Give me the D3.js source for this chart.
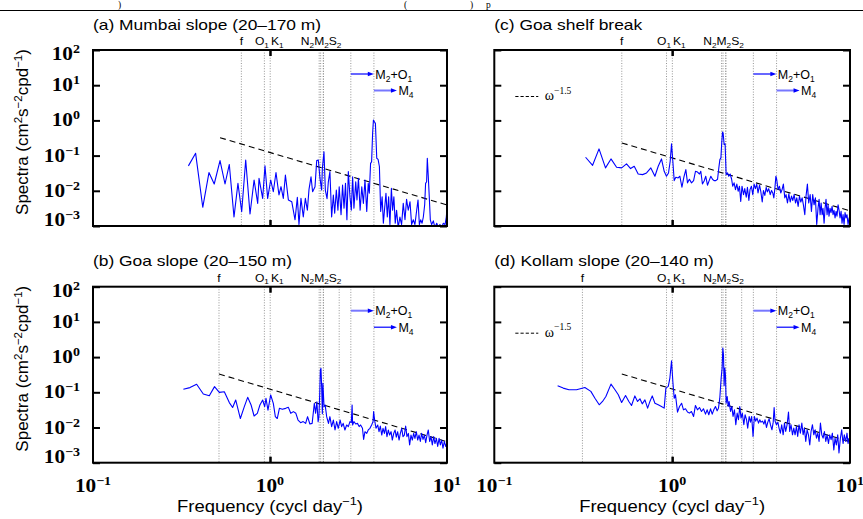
<!DOCTYPE html>
<html><head><meta charset="utf-8">
<script src="https://cdn.jsdelivr.net/npm/d3@7"></script>
<style>body{margin:0;background:#fff}svg{display:block}</style>
</head><body><svg id="chart" width="863" height="519"></svg>
<script>
// ---------------- DATA ----------------
const freqA = [0.346,0.380,0.417,0.452,0.484,0.522,0.557,0.589,0.626,0.659,0.692,0.729,0.771,0.813,0.852,0.867,0.909,0.937,0.970,1.009,1.044,1.081,1.124,1.154,1.189,1.222,1.27,1.327,1.385,1.427,1.458,1.496,1.542,1.584,1.626,1.661,1.705,1.741,1.796,1.836,1.875,1.916,1.958,1.976,2.018,2.054,2.10,2.136,2.18,2.23,2.28,2.32,2.37,2.42,2.46,2.52,2.57,2.62,2.67,2.72,2.77,2.83,2.88,2.93,2.98,3.05,3.10,3.16,3.23,3.30,3.37,3.44,3.52,3.59,3.64,3.70,3.75,3.80,3.84,3.88,3.94,4.01,4.08,4.15,4.22,4.30,4.37,4.45,4.52,4.60,4.68,4.76,4.85,4.93,5.01,5.10,5.19,5.30,5.42,5.54,5.66,5.79,5.91,6.04,6.18,6.31,6.45,6.59,6.74,6.86,6.98,7.10,7.23,7.35,7.48,7.57,7.67,7.74,7.84,7.94,8.05,8.19,8.37,8.55,8.75,8.94,9.12,9.33,9.53,9.75,9.91,9.98];
const specA = [0.051,0.116,0.0034,0.033,0.0156,0.072,0.0156,0.056,0.0018,0.0163,0.00255,0.075,0.0022,0.0203,0.0044,0.0226,0.0061,0.051,0.0061,0.0203,0.0094,0.033,0.0076,0.0131,0.0061,0.028,0.0055,0.0049,0.0015,0.0065,0.0011,0.0061,0.0018,0.0061,0.0028,0.011,0.025,0.0094,0.013,0.072,0.075,0.0226,0.0105,0.043,0.129,0.0105,0.006,0.018,0.035,0.0018,0.0076,0.0023,0.0105,0.0028,0.013,0.0021,0.0146,0.0032,0.0163,0.0015,0.035,0.0068,0.0028,0.025,0.0032,0.018,0.0055,0.0226,0.0028,0.013,0.0044,0.0203,0.0026,0.0163,0.0085,0.060,0.067,0.43,1.03,0.92,0.83,0.084,0.078,0.049,0.0026,0.0068,0.0012,0.0035,0.0085,0.0018,0.0068,0.0011,0.0117,0.0028,0.0068,0.0012,0.0028,0.0009,0.0018,0.0011,0.0044,0.0015,0.0057,0.0028,0.0049,0.0011,0.0015,0.0011,0.0028,0.0055,0.0011,0.0015,0.0012,0.0018,0.004,0.0163,0.018,0.084,0.025,0.0068,0.0015,0.0011,0.0014,0.0009,0.0012,0.0009,0.0011,0.0009,0.0012,0.0011,0.0018,0.0028];

const freqB = [0.324,0.353,0.385,0.420,0.454,0.486,0.517,0.552,0.589,0.615,0.640,0.680,0.716,0.748,0.782,0.813,0.848,0.877,0.909,0.933,0.949,0.974,1.009,1.044,1.072,1.099,1.13,1.174,1.226,1.27,1.31,1.356,1.40,1.44,1.49,1.54,1.59,1.63,1.68,1.73,1.78,1.81,1.84,1.87,1.89,1.91,1.925,1.94,1.958,1.976,1.99,2.02,2.05,2.09,2.14,2.18,2.23,2.28,2.33,2.38,2.43,2.49,2.54,2.59,2.65,2.71,2.77,2.83,2.88,2.91,2.93,2.98,3.05,3.12,3.19,3.25,3.33,3.38,3.44,3.52,3.59,3.67,3.75,3.82,3.85,3.90,3.97,4.06,4.13,4.20,4.28,4.35,4.43,4.50,4.58,4.66,4.74,4.83,4.91,5.00,5.09,5.17,5.26,5.36,5.45,5.55,5.64,5.74,5.84,5.94,6.05,6.15,6.26,6.37,6.48,6.59,6.71,6.83,6.95,7.07,7.19,7.32,7.45,7.58,7.71,7.84,7.98,8.12,8.26,8.41,8.55,8.71,8.86,9.02,9.17,9.33,9.49,9.66,9.83,9.96];
const specB = [0.122,0.136,0.169,0.0895,0.080,0.145,0.0998,0.104,0.051,0.037,0.0605,0.018,0.039,0.072,0.0436,0.0212,0.0253,0.0436,0.0605,0.039,0.0675,0.031,0.084,0.0487,0.0203,0.018,0.035,0.0328,0.035,0.0374,0.0253,0.0282,0.0253,0.0163,0.0137,0.0147,0.0131,0.0203,0.0126,0.0131,0.0487,0.0253,0.054,0.0147,0.0203,0.0935,0.43,0.48,0.145,0.0245,0.18,0.039,0.0436,0.0203,0.0131,0.0203,0.0106,0.0163,0.0085,0.0147,0.0095,0.0163,0.0106,0.0131,0.0085,0.0118,0.0106,0.0147,0.0137,0.0436,0.0118,0.0147,0.0126,0.0131,0.0106,0.0118,0.0095,0.0046,0.0076,0.0068,0.0085,0.0095,0.0118,0.0147,0.0282,0.0163,0.0095,0.0118,0.0076,0.011,0.0061,0.0095,0.0068,0.0106,0.0055,0.0085,0.0061,0.0076,0.0044,0.0068,0.0085,0.0053,0.0076,0.0044,0.0068,0.0095,0.0055,0.0061,0.011,0.0055,0.0068,0.0032,0.0061,0.0044,0.0068,0.0049,0.0076,0.0044,0.0061,0.004,0.0068,0.0046,0.0061,0.0037,0.0061,0.0085,0.004,0.0055,0.0032,0.0055,0.0035,0.0049,0.0029,0.0049,0.0032,0.0044,0.0026,0.004,0.0029,0.0035];

const freqC = [0.326,0.357,0.388,0.422,0.453,0.487,0.52,0.554,0.584,0.612,0.644,0.682,0.718,0.759,0.80,0.835,0.871,0.902,0.929,0.954,0.975,0.992,1.009,1.027,1.049,1.081,1.105,1.135,1.164,1.194,1.22,1.25,1.285,1.32,1.353,1.388,1.425,1.449,1.48,1.513,1.545,1.58,1.615,1.65,1.686,1.72,1.76,1.80,1.83,1.855,1.88,1.90,1.92,1.935,1.96,1.985,2.012,2.05,2.08,2.12,2.16,2.19,2.23,2.27,2.31,2.35,2.39,2.43,2.47,2.52,2.56,2.61,2.65,2.70,2.74,2.79,2.84,2.89,2.94,2.99,3.04,3.10,3.15,3.21,3.26,3.32,3.38,3.43,3.49,3.56,3.62,3.68,3.73,3.78,3.83,3.87,3.94,4.01,4.08,4.15,4.22,4.30,4.37,4.45,4.53,4.61,4.69,4.77,4.85,4.94,5.02,5.11,5.20,5.29,5.38,5.47,5.57,5.66,5.76,5.86,5.97,6.07,6.17,6.28,6.39,6.50,6.61,6.70,6.79,6.88,6.97,7.05,7.15,7.24,7.33,7.43,7.53,7.62,7.72,7.82,7.93,8.03,8.13,8.24,8.35,8.45,8.57,8.68,8.79,8.91,9.02,9.14,9.26,9.38,9.50,9.62,9.75,9.88,9.96];
const specC = [0.0897,0.053,0.155,0.0447,0.0805,0.0467,0.0447,0.058,0.0428,0.0498,0.030,0.0288,0.0322,0.0447,0.0259,0.0498,0.0805,0.0359,0.0259,0.0322,0.069,0.215,0.069,0.0195,0.0243,0.0232,0.0259,0.0126,0.0243,0.040,0.0168,0.0213,0.0168,0.0195,0.0359,0.034,0.030,0.0359,0.0157,0.019,0.0259,0.0144,0.0195,0.0259,0.0213,0.0195,0.0195,0.0213,0.0447,0.077,0.086,0.23,0.47,0.44,0.206,0.215,0.0288,0.0322,0.0259,0.030,0.0213,0.0135,0.0168,0.0108,0.0155,0.0097,0.0135,0.005,0.0135,0.0078,0.0115,0.0066,0.0126,0.0053,0.0108,0.0135,0.0078,0.0155,0.0115,0.0155,0.0087,0.0144,0.0097,0.0048,0.0102,0.0074,0.0126,0.0093,0.0115,0.0078,0.0102,0.0087,0.0063,0.0115,0.0259,0.0213,0.0108,0.0135,0.0087,0.0108,0.0155,0.0063,0.0078,0.0045,0.0082,0.0048,0.0071,0.0053,0.0078,0.0045,0.0063,0.0036,0.0071,0.0048,0.0063,0.004,0.0021,0.0071,0.0155,0.0045,0.0078,0.0026,0.0078,0.004,0.0063,0.0011,0.0032,0.0057,0.0021,0.0045,0.0021,0.0032,0.0012,0.0032,0.0057,0.0021,0.004,0.0019,0.0032,0.0024,0.0036,0.0021,0.0028,0.0017,0.0026,0.0019,0.004,0.0028,0.0017,0.0026,0.0012,0.0021,0.0011,0.0024,0.0017,0.0021,0.0011,0.0017,0.0014];

const freqD = [0.227,0.244,0.263,0.290,0.323,0.349,0.368,0.389,0.406,0.424,0.453,0.477,0.498,0.520,0.547,0.571,0.591,0.617,0.639,0.659,0.679,0.703,0.728,0.750,0.773,0.80,0.835,0.871,0.902,0.922,0.951,0.971,0.992,1.009,1.027,1.044,1.072,1.10,1.13,1.158,1.189,1.22,1.25,1.284,1.32,1.352,1.388,1.425,1.462,1.50,1.54,1.574,1.607,1.643,1.68,1.714,1.752,1.79,1.822,1.853,1.886,1.91,1.927,1.944,1.96,1.977,1.995,2.012,2.04,2.065,2.09,2.13,2.165,2.20,2.24,2.28,2.32,2.36,2.40,2.44,2.48,2.53,2.57,2.62,2.66,2.71,2.755,2.80,2.85,2.90,2.95,3.00,3.06,3.11,3.16,3.22,3.28,3.33,3.39,3.45,3.51,3.57,3.64,3.70,3.745,3.79,3.86,3.93,3.99,4.06,4.13,4.21,4.28,4.35,4.43,4.51,4.58,4.66,4.75,4.83,4.91,5.00,5.08,5.17,5.26,5.36,5.45,5.54,5.64,5.74,5.84,5.94,6.04,6.15,6.26,6.37,6.48,6.59,6.70,6.82,6.94,7.06,7.18,7.31,7.43,7.57,7.69,7.83,7.96,8.11,8.24,8.38,8.53,8.67,8.83,8.98,9.14,9.29,9.46,9.62,9.75,9.87];
const specD = [0.153,0.1315,0.118,0.118,0.137,0.106,0.068,0.0442,0.055,0.076,0.171,0.118,0.085,0.0514,0.0813,0.055,0.0423,0.079,0.055,0.0655,0.047,0.061,0.0355,0.055,0.079,0.049,0.0442,0.0396,0.0355,0.1315,0.147,0.253,0.785,0.203,0.068,0.085,0.0274,0.0396,0.049,0.0318,0.034,0.0274,0.0256,0.0285,0.0206,0.0423,0.0318,0.037,0.0285,0.034,0.024,0.0318,0.023,0.034,0.024,0.0318,0.0396,0.0298,0.0355,0.068,0.253,0.486,1.80,1.16,0.153,0.486,0.30,0.049,0.076,0.0396,0.055,0.0285,0.0396,0.0206,0.0318,0.012,0.0256,0.0166,0.0396,0.0185,0.0256,0.012,0.023,0.0166,0.0096,0.0206,0.0142,0.0206,0.0056,0.0206,0.0152,0.0185,0.0133,0.0166,0.0142,0.0152,0.0125,0.0166,0.01,0.0142,0.0177,0.012,0.0086,0.0142,0.037,0.0152,0.012,0.0142,0.0096,0.0069,0.012,0.0062,0.0133,0.0077,0.012,0.0274,0.0077,0.012,0.0062,0.0096,0.0062,0.0107,0.0056,0.012,0.0069,0.0133,0.0062,0.0096,0.004,0.0086,0.0062,0.0032,0.0077,0.012,0.0062,0.0086,0.005,0.0069,0.004,0.0133,0.0062,0.005,0.0077,0.004,0.0062,0.0035,0.0062,0.0045,0.0069,0.0023,0.005,0.0032,0.0062,0.0019,0.005,0.0086,0.0035,0.0062,0.004,0.0069,0.0035,0.005];

// omega^-1.5 reference lines: [start freq, start value], [end freq, end value]
const slopeA = [[0.522, 0.323], [10, 0.00395]];
const slopeB = [[0.515, 0.331], [10, 0.00395]];
const slopeC = [[0.521, 0.229], [10, 0.0027]];
const slopeD = [[0.521, 0.331], [10, 0.00395]];

// tidal / inertial frequencies (cpd)
const inertialFreq = [0.689, 0.515, 0.521, 0.313];   // a, b, c, d
const tideNames = ["O1","K1","N2","M2","S2","K2","MO3","M4"];
const tideFreq  = [0.9295, 1.0027, 1.8960, 1.9323, 2.0, 2.0055, 2.8618, 3.8645];
const extraFreq = [null, 2.46, null, 2.46];

const titles = ["(a) Mumbai slope (20–170 m)", "(b) Goa slope (20–150 m)", "(c) Goa shelf break", "(d) Kollam slope (20–140 m)"];
const xTickVals = [0.1, 1, 10];
const xTickExp  = ["−1", "0", "1"];
const yTickVals = [1e-3, 1e-2, 1e-1, 1, 10, 100];
const yTickExp  = ["−3", "−2", "−1", "0", "1", "2"];

// ---------------- LAYOUT ----------------
const svg = d3.select("#chart");
const SANS = "'Liberation Sans', Arial, Helvetica, sans-serif";
const SERIF = "'Liberation Serif', 'Times New Roman', serif";
const BLUE = "#0000ff";
const LIGHT = "#7777ff";

const panels = [
  {freq: freqA, spec: specA, slope: slopeA, k: 0, x0: 93,    x1: 447, y0: 50,    y1: 226,   ylab: true,  xlab: false, omega: false, arrowCol: [BLUE, LIGHT]},
  {freq: freqB, spec: specB, slope: slopeB, k: 1, x0: 93,    x1: 447, y0: 286.7, y1: 462.7, ylab: true,  xlab: true,  omega: false, arrowCol: [LIGHT, BLUE]},
  {freq: freqC, spec: specC, slope: slopeC, k: 2, x0: 494.3, x1: 850, y0: 50,    y1: 226,   ylab: false, xlab: false, omega: true,  arrowCol: [BLUE, LIGHT]},
  {freq: freqD, spec: specD, slope: slopeD, k: 3, x0: 494.3, x1: 850, y0: 286.7, y1: 462.7, ylab: false, xlab: true,  omega: true,  arrowCol: [LIGHT, BLUE]}
];

// rich text helper: parts = [[text, "n"|"sup"|"sub"], ...]
function rich(parent, x, y, parts, o) {
  o = o || {};
  const fs = o.fs || 12, sx = o.sx || 1;
  let tr = `translate(${x},${y})`;
  if (o.rot) tr += ` rotate(${o.rot})`;
  tr += ` scale(${sx},1)`;
  const t = parent.append("text")
    .attr("transform", tr)
    .attr("font-family", o.ff || SANS)
    .attr("font-size", fs)
    .attr("font-weight", o.fw || "normal")
    .attr("text-anchor", o.anchor || "start")
    .attr("fill", o.fill || "#000");
  let cur = 0;
  const supR = o.supRise || fs * 0.42, subD = o.subDrop || fs * 0.28;
  const small = o.small || fs * 0.68;
  parts.forEach(([s, kind]) => {
    const target = kind === "sup" ? -supR : kind === "sub" ? subD : 0;
    t.append("tspan").attr("dy", target - cur)
      .attr("font-size", kind === "n" ? fs : small).text(s);
    cur = target;
  });
  return t;
}

// top strip: remnant of the caption line above the figure
svg.append("line").attr("x1", 0).attr("x2", 863).attr("y1", 10.5).attr("y2", 10.5)
  .attr("stroke", "#000").attr("stroke-width", 1);
[[118, ")"], [404, "("], [470, ")"], [486, "p"]].forEach(([x, s]) => {
  svg.append("text").attr("x", x).attr("y", 7.5)
    .attr("font-family", SERIF).attr("font-size", 9.5).attr("fill", "#000").text(s);
});

panels.forEach(p => {
  const g = svg.append("g");
  const xs = d3.scaleLog().domain([0.1, 10]).range([p.x0, p.x1]);
  const ys = d3.scaleLog().domain([1e-3, 1e2]).range([p.y1, p.y0]);
  const cid = "clip" + p.k;
  svg.append("clipPath").attr("id", cid).append("rect")
    .attr("x", p.x0).attr("y", p.y0).attr("width", p.x1 - p.x0).attr("height", p.y1 - p.y0);

  // vertical dotted constituent lines
  const vlines = [inertialFreq[p.k]].concat(tideFreq);
  if (extraFreq[p.k]) vlines.push(extraFreq[p.k]);
  g.selectAll("line.v").data(vlines).join("line")
    .attr("x1", d => xs(d)).attr("x2", d => xs(d))
    .attr("y1", p.y0).attr("y2", p.y1)
    .attr("stroke", "#8a8a8a").attr("stroke-width", 0.9).attr("stroke-dasharray", "1,1.6");

  // omega^-1.5 dashed line
  g.append("path").datum(p.slope)
    .attr("d", d3.line().x(d => xs(d[0])).y(d => ys(d[1])))
    .attr("fill", "none").attr("stroke", "#000").attr("stroke-width", 1.1)
    .attr("stroke-dasharray", "6,4");

  // spectrum
  const data = p.freq.map((f, i) => [f, p.spec[i]]);
  g.append("path").datum(data)
    .attr("clip-path", `url(#${cid})`)
    .attr("d", d3.line().x(d => xs(d[0])).y(d => ys(d[1])))
    .attr("fill", "none").attr("stroke", BLUE).attr("stroke-width", 1.1)
    .attr("stroke-linejoin", "round");

  // arrows for M2+O1 and M4
  const arrows = [
    {f: tideFreq[6], dy: 24, parts: [["M", "n"], ["2", "sub"], ["+O", "n"], ["1", "sub"]], col: p.arrowCol[0]},
    {f: tideFreq[7], dy: 40.5, parts: [["M", "n"], ["4", "sub"]], col: p.arrowCol[1]}
  ];
  arrows.forEach(a => {
    const xa = xs(a.f), xe = xa + 23, ya = p.y0 + a.dy;
    const light = a.col === LIGHT;
    g.append("line").attr("x1", xa).attr("x2", xe - 4).attr("y1", ya).attr("y2", ya)
      .attr("stroke", a.col).attr("stroke-width", light ? 2 : 1.2);
    g.append("path").attr("d", `M${xe},${ya} L${xe - 6},${ya - 2.2} L${xe - 6},${ya + 2.2} Z`)
      .attr("fill", BLUE);
    rich(g, xe + 1.5, ya + 4.5, a.parts, {fs: 12.5, small: 8.5, subDrop: 3});
  });

  // frame
  g.append("rect").attr("x", p.x0).attr("y", p.y0)
    .attr("width", p.x1 - p.x0).attr("height", p.y1 - p.y0)
    .attr("fill", "none").attr("stroke", "#000").attr("stroke-width", 2);

  // y ticks (inward, both sides)
  g.append("g").attr("transform", `translate(${p.x0},0)`)
    .call(d3.axisLeft(ys).tickValues(yTickVals).tickSize(-7).tickFormat(""))
    .call(s => { s.select(".domain").remove(); s.selectAll("line").attr("stroke-width", 2); });
  g.append("g").attr("transform", `translate(${p.x1},0)`)
    .call(d3.axisRight(ys).tickValues(yTickVals).tickSize(-7).tickFormat(""))
    .call(s => { s.select(".domain").remove(); s.selectAll("line").attr("stroke-width", 2); });
  // x ticks
  g.append("g").attr("transform", `translate(0,${p.y1})`)
    .call(d3.axisBottom(xs).tickValues([1]).tickSize(-6).tickFormat(""))
    .call(s => { s.select(".domain").remove(); s.selectAll("line").attr("stroke-width", 2.5); });
  g.append("g").attr("transform", `translate(0,${p.y0})`)
    .call(d3.axisTop(xs).tickValues([1]).tickSize(-6).tickFormat(""))
    .call(s => { s.select(".domain").remove(); s.selectAll("line").attr("stroke-width", 2.5); });

  // y tick labels
  if (p.ylab) {
    yTickVals.forEach((v, i) => {
      let yy = ys(v) + 6;
      if (i === 0) yy -= 6;
      if (i === yTickVals.length - 1) yy += 4;
      rich(g, p.x0 - 13, yy, [["10", "n"], [yTickExp[i], "sup"]],
        {ff: SERIF, fw: "bold", fs: 19, sx: 1.12, anchor: "end", small: 12.5, supRise: 7});
    });
  }
  // x tick labels
  if (p.xlab) {
    xTickVals.forEach((v, i) => {
      rich(g, xs(v), p.y1 + 29.5, [["10", "n"], [xTickExp[i], "sup"]],
        {ff: SERIF, fw: "bold", fs: 19, sx: 1.12, anchor: "middle", small: 12.5, supRise: 7});
    });
    rich(g, (p.x0 + p.x1) / 2, p.y1 + 49, [["Frequency (cycl day", "n"], ["−1", "sup"], [")", "n"]],
      {fs: 16.5, sx: 1.12, anchor: "middle", small: 11.5, supRise: 6.5});
  }
  // y axis title
  if (p.ylab) {
    rich(g, 28, (p.y0 + p.y1) / 2 - 6, [["Spectra (cm", "n"], ["2", "sup"], ["s", "n"], ["−2", "sup"], ["cpd", "n"], ["−1", "sup"], [")", "n"]],
      {fs: 17, rot: -90, anchor: "middle", small: 11.5, supRise: 6.5});
  }

  // panel title
  rich(g, p.x0, p.y0 - 20.5, [[titles[p.k], "n"]], {fs: 15, sx: 1.16});

  // constituent labels above the frame
  const ly = p.y0 - 5;
  const lab = {fs: 11, sx: 1.1, small: 7.5, subDrop: 2.5};
  rich(g, xs(inertialFreq[p.k]), ly, [["f", "n"]], Object.assign({anchor: "middle"}, lab));
  rich(g, xs(tideFreq[0]) - 9.5, ly, [["O", "n"], ["1", "sub"]], lab);
  rich(g, xs(tideFreq[1]) + 0.7, ly, [["K", "n"], ["1", "sub"]], lab);
  rich(g, xs(tideFreq[3]) + 0.5, ly, [["N", "n"], ["2", "sub"], ["M", "n"], ["2", "sub"], ["S", "n"], ["2", "sub"]], Object.assign({anchor: "middle"}, lab));

  // omega legend
  if (p.omega) {
    g.append("line").attr("x1", p.x0 + 21).attr("x2", p.x0 + 44)
      .attr("y1", p.y0 + 46.5).attr("y2", p.y0 + 46.5)
      .attr("stroke", "#000").attr("stroke-width", 1).attr("stroke-dasharray", "3.2,2");
    rich(g, p.x0 + 50.5, p.y0 + 50, [["ω", "n"], ["−1.5", "sup"]],
      {ff: SERIF, fs: 14, small: 9.5, supRise: 6.5});
  }
});
</script>
</body></html>
